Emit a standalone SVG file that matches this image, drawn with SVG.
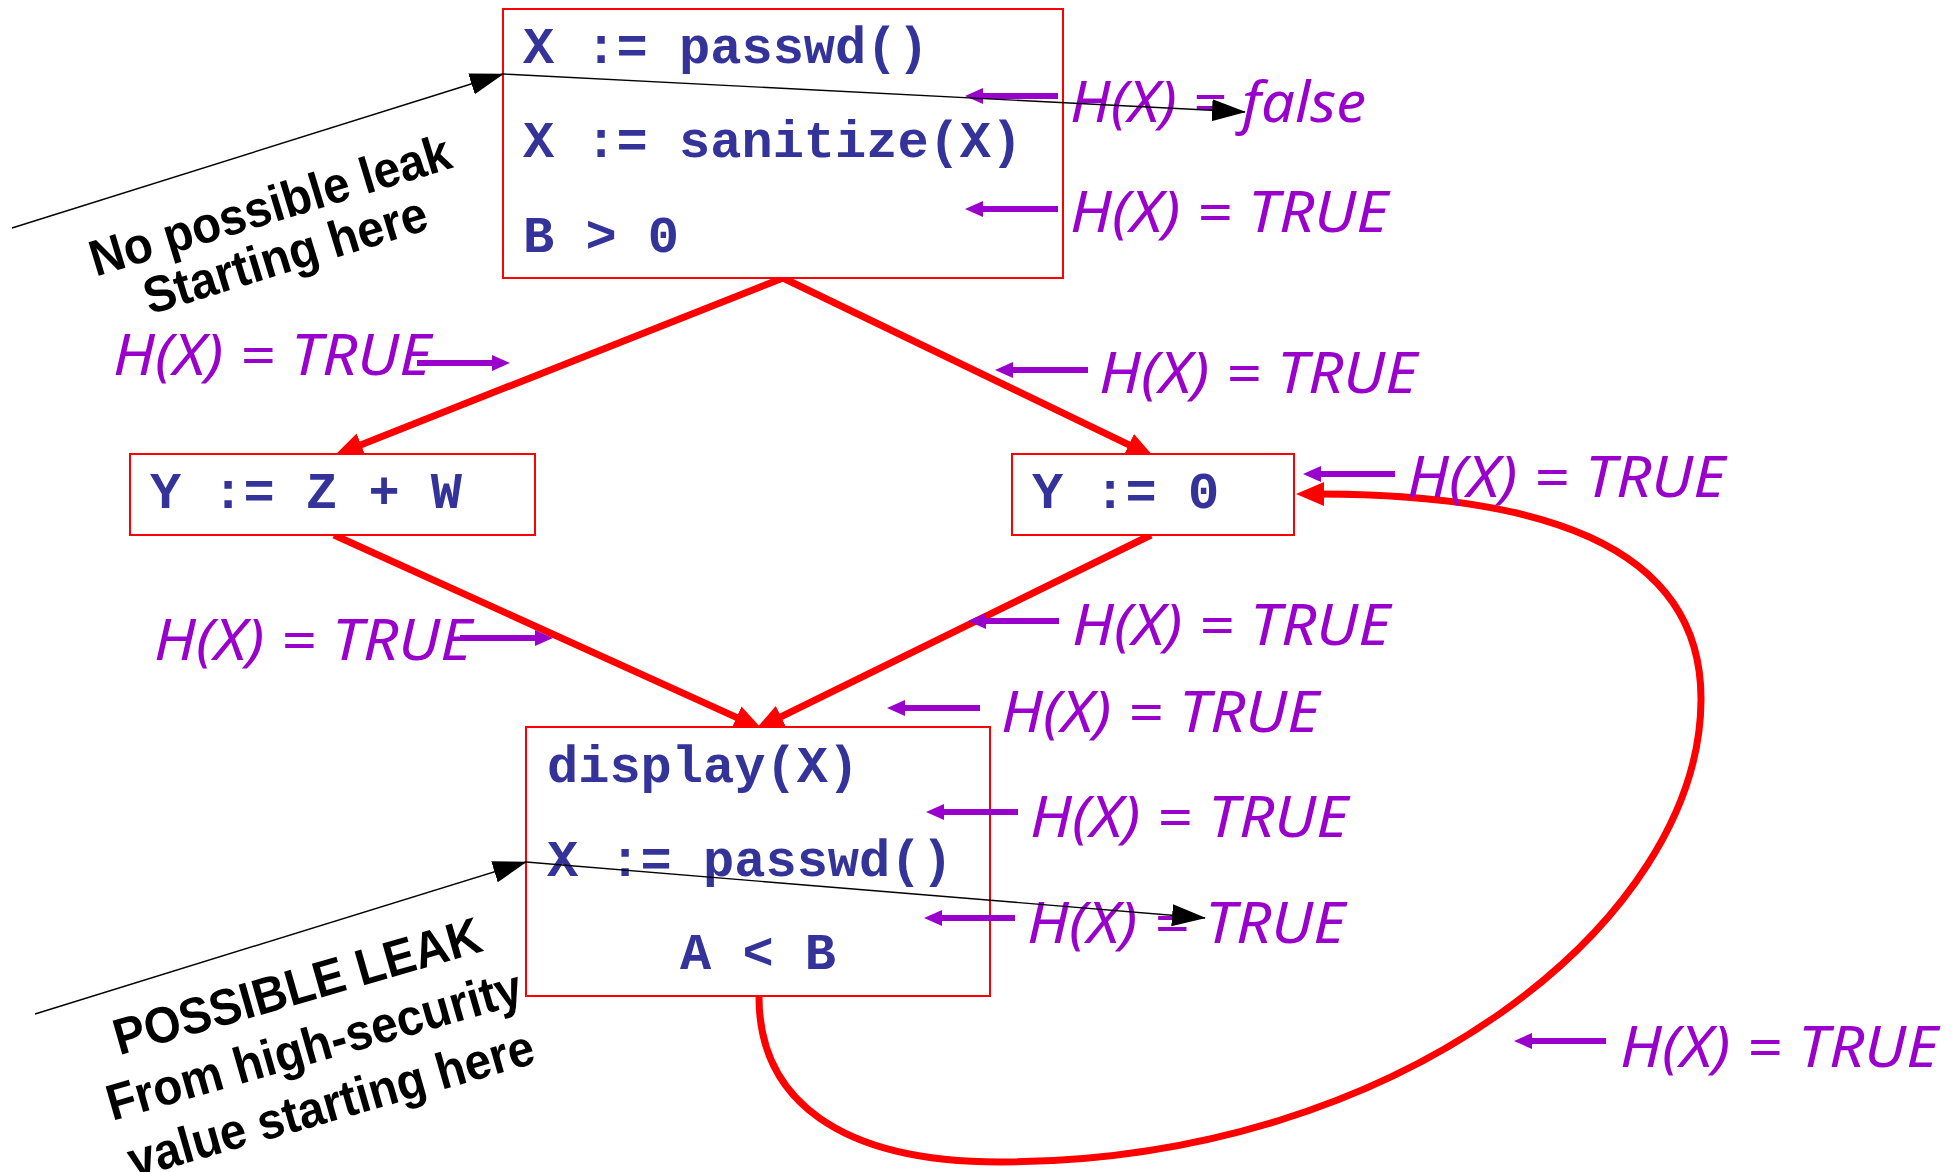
<svg xmlns="http://www.w3.org/2000/svg" width="1960" height="1172" viewBox="0 0 1960 1172">
<style>
.code{font-family:"Liberation Mono","Courier New",monospace;font-weight:bold;font-size:52px;fill:#333399}
.box{fill:#fff;stroke:#ff0000;stroke-width:2}
.flow{fill:none;stroke:#ff0000;stroke-width:7}
.h{font-family:"Noto Sans","DejaVu Sans",sans-serif;font-style:italic;font-size:56px;fill:#9900cc}
.pa{stroke:#9900cc;stroke-width:6;fill:none}
.ba{stroke:#000;stroke-width:1.4;fill:none}
.note{font-family:"Liberation Sans",Arial,sans-serif;font-weight:bold;font-size:51px;fill:#000;text-anchor:middle}
</style>
<defs>
<marker id="rh" markerUnits="userSpaceOnUse" markerWidth="30" markerHeight="26" viewBox="0 0 30 26" refX="6" refY="12" orient="auto"><path d="M0,0 L28,12 L0,24 z" fill="#ff0000"/></marker>
<marker id="ph" markerUnits="userSpaceOnUse" markerWidth="20" markerHeight="18" viewBox="0 0 20 18" refX="2" refY="8" orient="auto"><path d="M0,0 L18,8 L0,16 z" fill="#9900cc"/></marker>
<marker id="bh" markerUnits="userSpaceOnUse" markerWidth="36" markerHeight="24" viewBox="0 0 36 24" refX="33" refY="11" orient="auto"><path d="M0,0 L34,11 L0,22 z" fill="#000"/></marker>
</defs>

<g id="connectors">
<line class="flow" x1="783" y1="278" x2="355.5" y2="446.9" marker-end="url(#rh)"/>
<line class="flow" x1="783" y1="278" x2="1134.2" y2="447.4" marker-end="url(#rh)"/>
<line class="flow" x1="334" y1="535" x2="742" y2="719.9" marker-end="url(#rh)"/>
<line class="flow" x1="1151" y1="535" x2="775.7" y2="719.3" marker-end="url(#rh)"/>
<path class="flow" d="M759,997 C759,1100 840,1162 1000,1162 C1400,1162 1700,920 1701,700 C1702,540 1530,494 1318,494" marker-end="url(#rh)"/>
</g>

<g id="node-top">
<rect class="box" x="503" y="9" width="560" height="269"/>
<text class="code" x="523" y="63">X := passwd()</text>
<text class="code" x="523" y="157">X := sanitize(X)</text>
<text class="code" x="523" y="252">B &gt; 0</text>
</g>
<g id="node-left">
<rect class="box" x="130" y="454" width="405" height="81"/>
<text class="code" x="150" y="508">Y := Z + W</text>
</g>
<g id="node-right">
<rect class="box" x="1012" y="454" width="282" height="81"/>
<text class="code" x="1032" y="508">Y := 0</text>
</g>
<g id="node-bottom">
<rect class="box" x="526" y="727" width="464" height="269"/>
<text class="code" x="547" y="782">display(X)</text>
<text class="code" x="547" y="876">X := passwd()</text>
<text class="code" x="680" y="969">A &lt; B</text>
</g>

<g id="annotations">
<line class="pa" x1="1058" y1="96" x2="981" y2="96" marker-end="url(#ph)"/>
<line class="pa" x1="1058" y1="209" x2="981" y2="209" marker-end="url(#ph)"/>
<line class="pa" x1="417" y1="363" x2="494" y2="363" marker-end="url(#ph)"/>
<line class="pa" x1="1088" y1="370" x2="1011" y2="370" marker-end="url(#ph)"/>
<line class="pa" x1="1395" y1="474" x2="1319" y2="474" marker-end="url(#ph)"/>
<line class="pa" x1="460" y1="638" x2="537" y2="638" marker-end="url(#ph)"/>
<line class="pa" x1="1059" y1="621" x2="984" y2="621" marker-end="url(#ph)"/>
<line class="pa" x1="980" y1="708" x2="903" y2="708" marker-end="url(#ph)"/>
<line class="pa" x1="1018" y1="812" x2="942" y2="812" marker-end="url(#ph)"/>
<line class="pa" x1="1015" y1="918" x2="940" y2="918" marker-end="url(#ph)"/>
<line class="pa" x1="1606" y1="1041" x2="1530" y2="1041" marker-end="url(#ph)"/>

<text class="h" x="1070" y="122" textLength="296" lengthAdjust="spacingAndGlyphs">H(X) = false</text>
<text class="h" x="1070" y="232" textLength="318" lengthAdjust="spacingAndGlyphs">H(X) = TRUE</text>
<text class="h" x="113" y="375" textLength="318" lengthAdjust="spacingAndGlyphs">H(X) = TRUE</text>
<text class="h" x="1099" y="393" textLength="318" lengthAdjust="spacingAndGlyphs">H(X) = TRUE</text>
<text class="h" x="1407" y="497" textLength="318" lengthAdjust="spacingAndGlyphs">H(X) = TRUE</text>
<text class="h" x="154" y="660" textLength="318" lengthAdjust="spacingAndGlyphs">H(X) = TRUE</text>
<text class="h" x="1072" y="645" textLength="318" lengthAdjust="spacingAndGlyphs">H(X) = TRUE</text>
<text class="h" x="1001" y="732" textLength="318" lengthAdjust="spacingAndGlyphs">H(X) = TRUE</text>
<text class="h" x="1030" y="837" textLength="318" lengthAdjust="spacingAndGlyphs">H(X) = TRUE</text>
<text class="h" x="1027" y="943" textLength="318" lengthAdjust="spacingAndGlyphs">H(X) = TRUE</text>
<text class="h" x="1620" y="1067" textLength="318" lengthAdjust="spacingAndGlyphs">H(X) = TRUE</text>

<line class="ba" x1="12" y1="228" x2="503" y2="74" marker-end="url(#bh)"/>
<line class="ba" x1="503" y1="74" x2="1245" y2="112" marker-end="url(#bh)"/>
<line class="ba" x1="35" y1="1014" x2="526" y2="862" marker-end="url(#bh)"/>
<line class="ba" x1="526" y1="862" x2="1205" y2="918" marker-end="url(#bh)"/>

<g transform="translate(275,222) rotate(-17)">
<text class="note" x="0" y="0" textLength="375" lengthAdjust="spacingAndGlyphs">No possible leak</text>
<text class="note" x="0" y="52" textLength="294" lengthAdjust="spacingAndGlyphs">Starting here</text>
</g>
<g transform="translate(302,1003) rotate(-16)">
<text class="note" x="0" y="0" textLength="380" lengthAdjust="spacingAndGlyphs">POSSIBLE LEAK</text>
<text class="note" x="0" y="61" textLength="430" lengthAdjust="spacingAndGlyphs">From high-security</text>
<text class="note" x="0" y="122" textLength="420" lengthAdjust="spacingAndGlyphs">value starting here</text>
</g>
</g>
</svg>
